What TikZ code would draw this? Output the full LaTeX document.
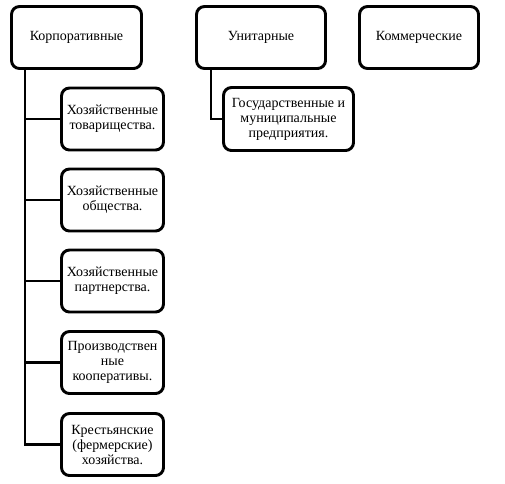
\documentclass[tikz,border=0pt]{standalone}
\usepackage{fontspec}
\setmainfont{Liberation Serif}
\usetikzlibrary{positioning,calc}

\begin{document}
\begin{tikzpicture}[
  x=0.75pt, y=-0.75pt,
  box/.style={rectangle, rounded corners=6pt, draw=black, line width=2.2pt, fill=white, inner sep=1pt, align=center, font=\fontsize{10.5}{11.25}\selectfont},
  topbox/.style={box, minimum height=46.5pt},
  subbox/.style={box, minimum width=76.5pt, minimum height=46.5pt},
  link/.style={line width=2.2pt, black}
]
\useasboundingbox (0,0) rectangle (505,483);

% Top level
\node[topbox, minimum width=97.5pt] (corp) at (76.5,37.5) {Корпоративные};
\node[topbox, minimum width=96.75pt] (unit) at (261,37.5) {Унитарные};
\node[topbox, minimum width=89.25pt] (comm) at (419,37.5) {Коммерческие};

% Corporate members
\node[subbox] (tov) at (112.5,119) {Хозяйственные\\товарищества.};
\node[subbox] (obsh) at (112.5,200) {Хозяйственные\\общества.};
\node[subbox] (part) at (112.5,281) {Хозяйственные\\партнерства.};
\node[subbox] (koop) at (112.5,362.5) {Производствен\\ные\\кооперативы.};
\node[subbox] (kfh) at (112.5,444.5) {Крестьянские\\(фермерские)\\хозяйства.};

% Unitary member
\node[box, minimum width=97.5pt, minimum height=47.25pt] (gov) at (288.5,119) {Государственные и\\муниципальные\\предприятия.};

% Connectors
\coordinate (corptrunk) at (corp.south -| 25,0);
\coordinate (unittrunk) at (unit.south -| 211,0);
\draw[link] (corptrunk) |- (kfh.west);
\draw[link] (corptrunk) |- (tov.west);
\draw[link] (corptrunk) |- (obsh.west);
\draw[link] (corptrunk) |- (part.west);
\draw[link] (corptrunk) |- (koop.west);
\draw[link] (unittrunk) |- (gov.west);

\end{tikzpicture}
\end{document}
